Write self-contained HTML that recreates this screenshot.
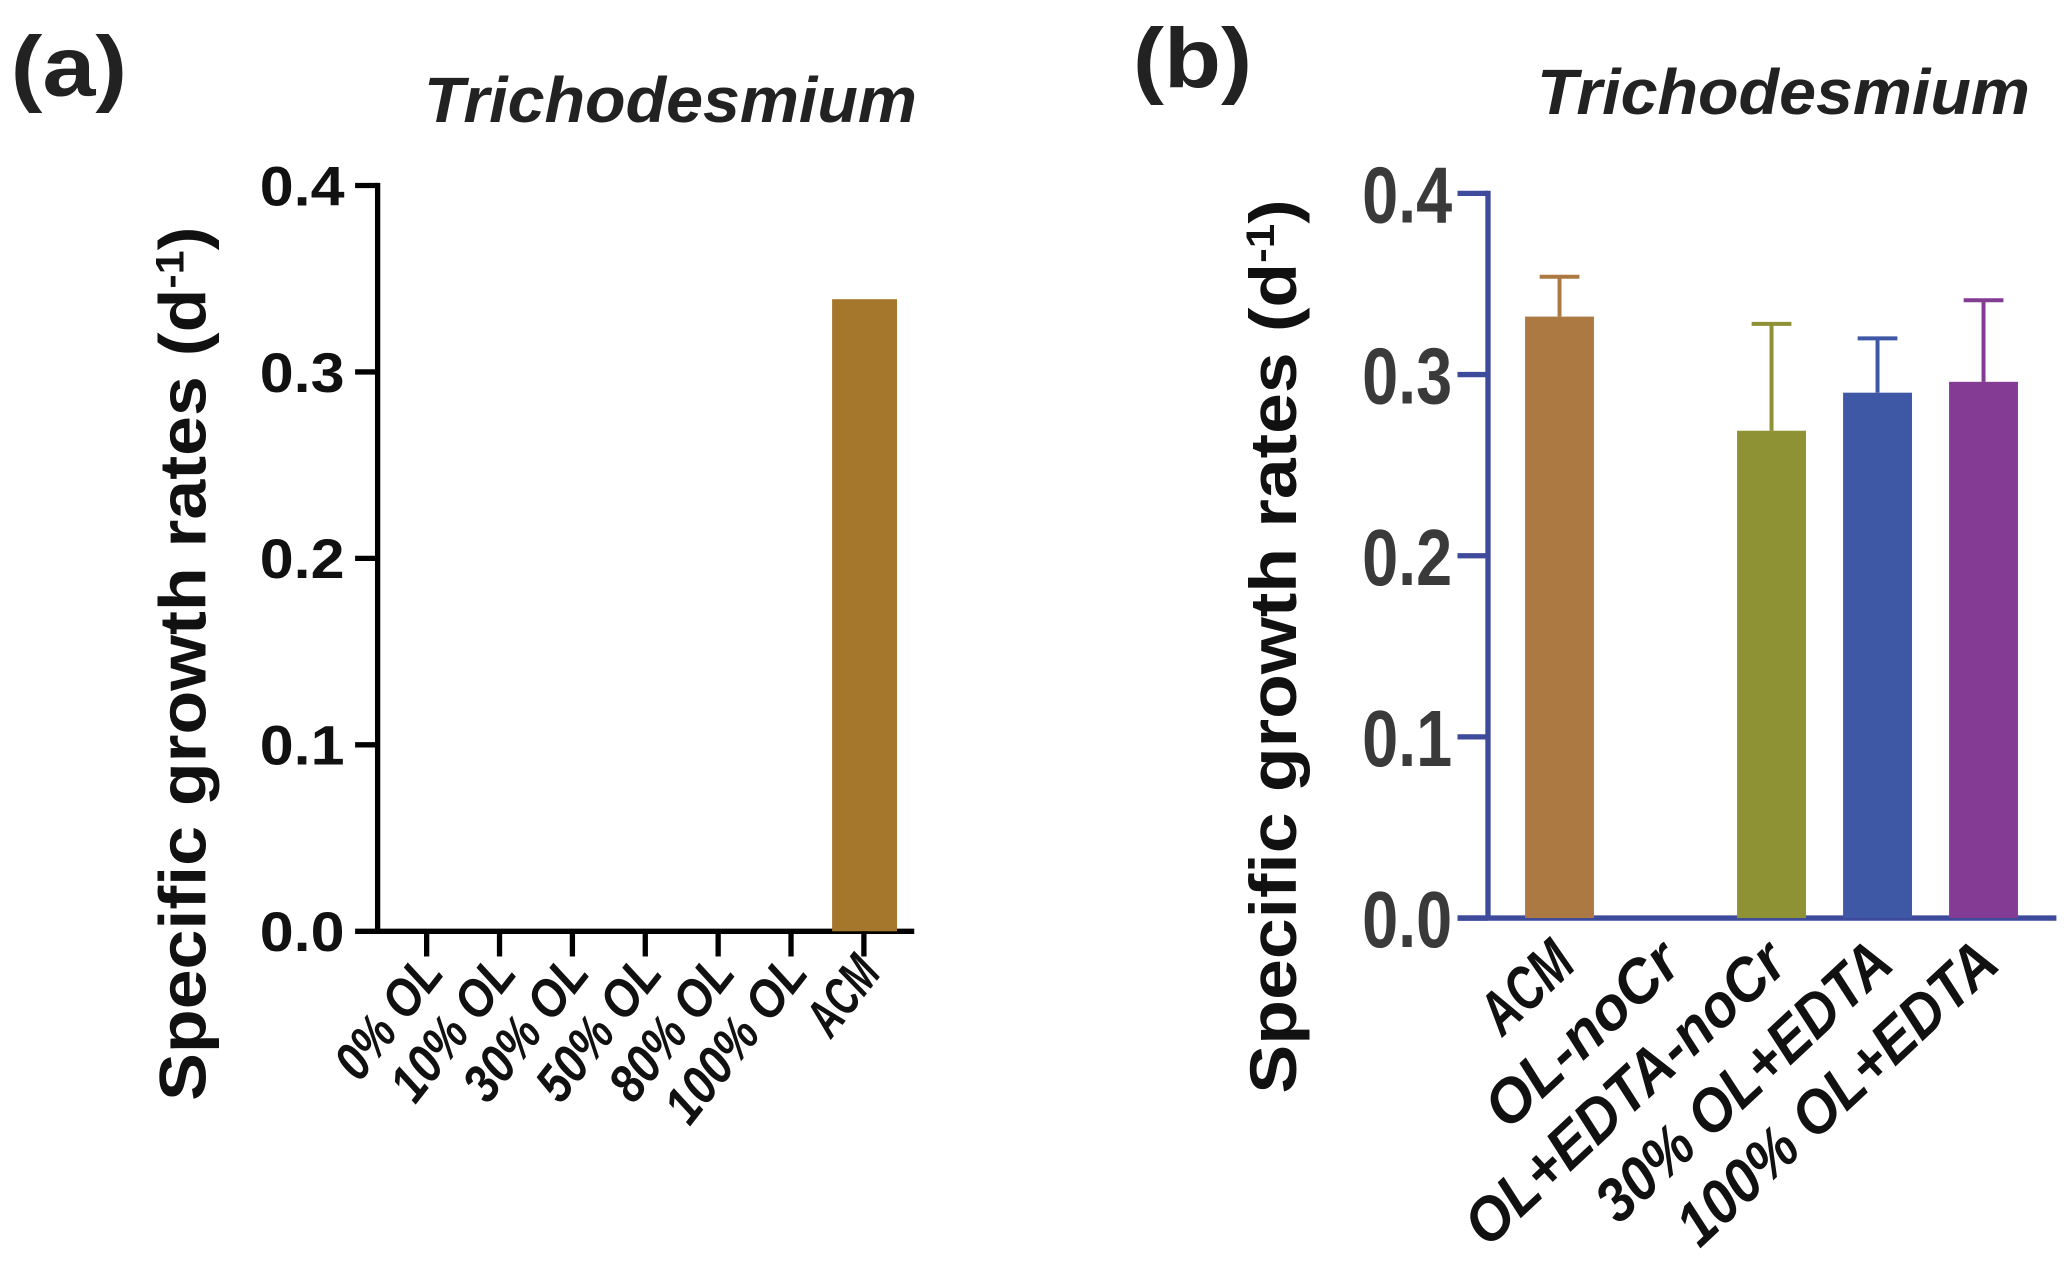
<!DOCTYPE html>
<html><head><meta charset="utf-8"><style>
html,body{margin:0;padding:0;background:#fff;}
svg{display:block;}
text{font-family:"Liberation Sans",sans-serif;}
</style></head><body>
<svg id="fig" width="2067" height="1285" viewBox="0 0 1560 970" preserveAspectRatio="none" xmlns="http://www.w3.org/2000/svg">
<text x="8" y="72" font-size="64" font-weight="bold" fill="#222" textLength="88" lengthAdjust="spacingAndGlyphs">(a)</text>
<text x="320" y="92" font-size="48" font-weight="bold" font-style="italic" fill="#222" textLength="372" lengthAdjust="spacingAndGlyphs">Trichodesmium</text>
<text x="855" y="66" font-size="64" font-weight="bold" fill="#222" textLength="90" lengthAdjust="spacingAndGlyphs">(b)</text>
<text x="1160" y="86" font-size="48" font-weight="bold" font-style="italic" fill="#222" textLength="372" lengthAdjust="spacingAndGlyphs">Trichodesmium</text>
<text transform="translate(155,501) rotate(-90)" font-size="50" font-weight="bold" text-anchor="middle" fill="#111" textLength="660" lengthAdjust="spacingAndGlyphs">Specific growth rates (d<tspan baseline-shift="super" font-size="30">-1</tspan>)</text>
<text transform="translate(978,488) rotate(-90)" font-size="50" font-weight="bold" text-anchor="middle" fill="#111" textLength="675" lengthAdjust="spacingAndGlyphs">Specific growth rates (d<tspan baseline-shift="super" font-size="30">-1</tspan>)</text>
<g id="ga"></g><g id="gb"></g>
</svg>
<script>
const NS="http://www.w3.org/2000/svg";
const ticks=[0,0.1,0.2,0.3,0.4];
const tickLabels=["0.0","0.1","0.2","0.3","0.4"];
const catsA=["0% OL","10% OL","30% OL","50% OL","80% OL","100% OL","ACM"];
const valsA=[0,0,0,0,0,0,0.339];
const catsB=["ACM","OL-noCr","OL+EDTA-noCr","30% OL+EDTA","100% OL+EDTA"];
const valsB=[0.332,0,0.269,0.290,0.296];
const errB=[0.022,0,0.059,0.030,0.045];
const colorsB=["#ad7942","#ffffff","#8e9134","#3e58a6","#833b94"];

function mk(p,tag,a){const e=document.createElementNS(NS,tag);for(const k in a)e.setAttribute(k,a[k]);p.appendChild(e);return e;}

// Panel A
const ga=document.getElementById('ga');
const yA=v=>703-v/0.4*563;
const xA=i=>322+i*55;
let l=mk(ga,'line',{x1:285,y1:138,x2:285,y2:705,stroke:'#000','stroke-width':4});


l=mk(ga,'line',{x1:283,y1:703,x2:690,y2:703,stroke:'#000','stroke-width':4});


ticks.forEach((t,i)=>{
  const tk=mk(ga,'line',{x1:268,y1:yA(t),x2:285,y2:yA(t),stroke:'#000','stroke-width':4});
  
  
  const tx=mk(ga,'text',{x:260,y:yA(t)+15,'font-size':42,'font-weight':'bold','text-anchor':'end',fill:'#111',textLength:64,lengthAdjust:'spacingAndGlyphs'});
  tx.textContent=tickLabels[i];
  
  
});
catsA.forEach((c,i)=>{
  const x=xA(i);
  if(valsA[i]>0){
    const r=mk(ga,'rect',{x:x-24,y:yA(valsA[i]),width:49,height:703-yA(valsA[i]),fill:'#a5772c'});
    
    
  }
  const tk=mk(ga,'line',{x1:x,y1:703,x2:x,y2:722,stroke:'#000','stroke-width':4});
  
  
  const tx=mk(ga,'text',{transform:`translate(${x+14},${735}) rotate(-52)`,'font-size':40,'font-weight':'bold','font-style':'italic','text-anchor':'end',fill:'#111',textLength:c.length*21,lengthAdjust:'spacingAndGlyphs'});
  tx.textContent=c;
  
  
});

// Panel B
const gb=document.getElementById('gb');
const yB=v=>693-v/0.4*547;
const xB=i=>1177+i*80;
const ax='#3e4a9b';
l=mk(gb,'line',{x1:1123,y1:144,x2:1123,y2:694,stroke:ax,'stroke-width':4});


l=mk(gb,'line',{x1:1100,y1:693,x2:1552,y2:693,stroke:ax,'stroke-width':4});


ticks.forEach((t,i)=>{
  const tk=mk(gb,'line',{x1:1100,y1:yB(t),x2:1123,y2:yB(t),stroke:ax,'stroke-width':4});
  
  
  const tx=mk(gb,'text',{x:1096,y:yB(t)+22,'font-size':60,'font-weight':'bold','text-anchor':'end',fill:'#3a3a3a',textLength:68,lengthAdjust:'spacingAndGlyphs'});
  tx.textContent=tickLabels[i];
  
  
});
catsB.forEach((c,i)=>{
  const x=xB(i);
  if(valsB[i]>0){
    const top=yB(valsB[i]+errB[i]);
    const e1=mk(gb,'line',{x1:x,y1:yB(valsB[i]),x2:x,y2:top,stroke:colorsB[i],'stroke-width':3});
    
    
    const e2=mk(gb,'line',{x1:x-15,y1:top,x2:x+15,y2:top,stroke:colorsB[i],'stroke-width':3});
    
    
    const r=mk(gb,'rect',{x:x-26,y:yB(valsB[i]),width:52,height:693-yB(valsB[i]),fill:colorsB[i]});
    
    
  }
  const tx=mk(gb,'text',{transform:`translate(${x+14},${730}) rotate(-43)`,'font-size':46,'font-weight':'bold','font-style':'italic','text-anchor':'end',fill:'#111',textLength:c.length*26,lengthAdjust:'spacingAndGlyphs'});
  tx.textContent=c;
  
  
});
</script>
</body></html>
